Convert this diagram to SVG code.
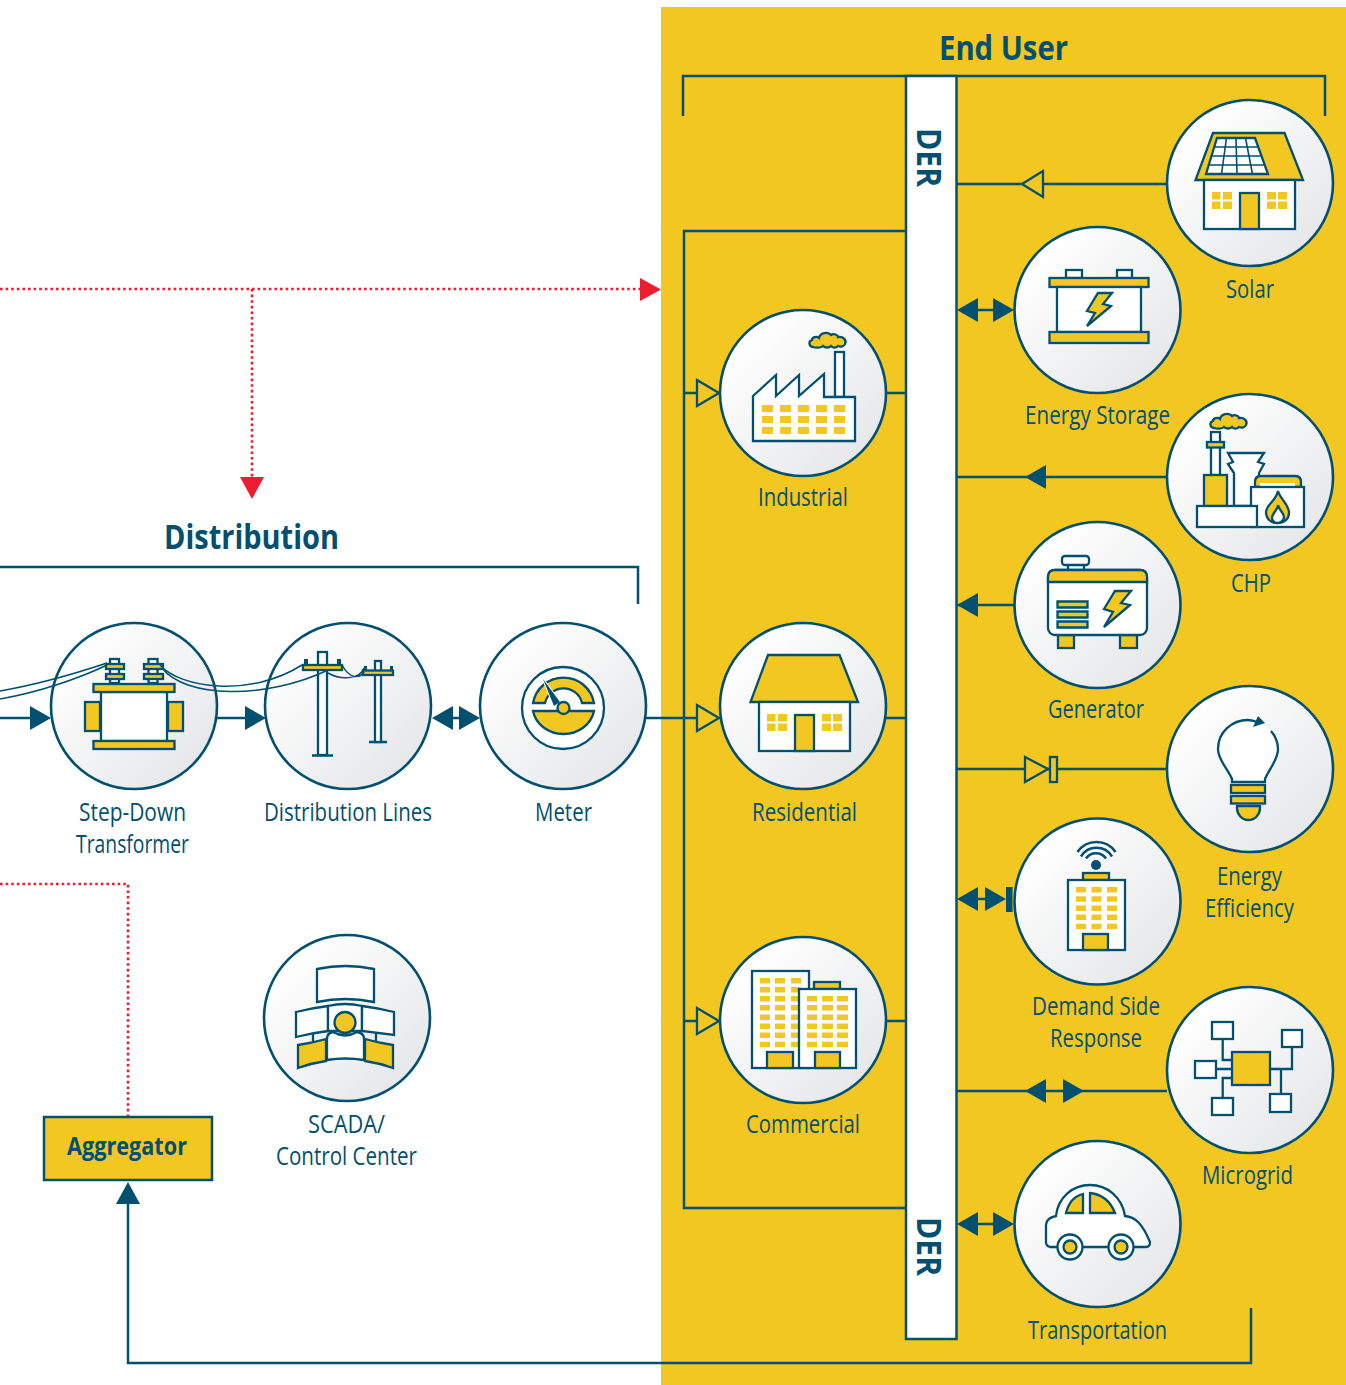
<svg xmlns="http://www.w3.org/2000/svg" xmlns:xlink="http://www.w3.org/1999/xlink" width="1346" height="1385" viewBox="0 0 1346 1385">
<style>
.c{fill:url(#g);stroke:#02506f;stroke-width:2.6}
.l{fill:none;stroke:#02506f;stroke-width:2.5}
.i{stroke:#02506f;stroke-width:2.3;stroke-linejoin:miter}
.w{fill:#fff}.y{fill:#f2c722}.n{fill:none}
.o{fill:#f2c722;stroke:none}
.a{fill:#02506f;stroke:none}
.t{fill:#02506f;font-family:"Open Sans","Noto Sans",sans-serif;font-size:25px;text-anchor:middle}
.h{fill:#02506f;font-family:"Open Sans","Noto Sans",sans-serif;font-weight:700;font-size:34px}
.r{fill:none;stroke:#ed1c2e;stroke-width:2.6;stroke-dasharray:2.6 3}
</style>
<defs>
<linearGradient id="g" x1="0.15" y1="0.15" x2="0.85" y2="0.85"><stop offset="0" stop-color="#fff"/><stop offset="1" stop-color="#e7e8ea"/></linearGradient>
<polygon id="fr" points="0,-12 21,0 0,12"/>
<polygon id="fl" points="0,-12 -21,0 0,12"/>
<path id="cloud" d="M4 15C0 15-1 9 3 8 3 5 8 4 10 6 11 1 19-1 22 3 25 1 29 3 29 5 34 4 38 8 36 12 35 15 31 15 29 14 27 16 24 16 22 14 20 16 16 16 14 14 12 16 7 16 4 15Z"/>
<g id="house">
<polygon class="i y" points="15,0 86.500,0 105,47 -2.500,47"/>
<rect class="i w" x="6" y="47" width="91" height="49"/>
<path class="o" d="M14 59h8.500v7.500h-8.500zM25 59h9v7.500h-9zM14 68.500h8.500v7.500h-8.500zM25 68.500h9v7.500h-9zM69 59h9v7.500h-9zM80 59h9v7.500h-9zM69 68.500h9v7.500h-9zM80 68.500h9v7.500h-9z"/>
<rect class="i y" x="42" y="60" width="19" height="36"/>
</g>
</defs>
<rect width="1346" height="1385" fill="#fff"/>
<rect x="661" y="7" width="685" height="1378" fill="#f2c722"/>

<g id="connectors">
<path class="l" d="M683 116V76H1325V116"/>
<path class="l" d="M0 567H638V604"/>
<path class="l" d="M906 231H684V1208H906"/>
<path class="l" d="M128 1204V1363H1251V1308"/>
<path class="r" d="M0 289H640"/>
<path class="r" d="M252 289V477"/>
<path class="r" d="M0 884H128V1116"/>
<polygon fill="#ed1c2e" points="640,278 661,289.500 640,301"/>
<polygon fill="#ed1c2e" points="240,477 264,477 252,499"/>
<polygon class="a" points="116,1204 140,1204 128,1182"/>
<path class="l" d="M0 718H30M217 718H245M453 718H459M646 718H700M886 718H906M684 393H700M886 393H906M684 1021H700M886 1021H906"/>
<path class="l" d="M957 184H1167M978 310H994M957 477H1167M957 605H1014M957 769H1167M978 899H986M957 1091H1167M978 1224H994"/>
<use href="#fr" class="a" x="30" y="718"/>
<use href="#fr" class="a" x="245" y="718"/>
<use href="#fl" class="a" x="453" y="718"/>
<use href="#fr" class="a" x="459" y="718"/>
<polygon class="i y" points="697,380 719,393 697,406"/>
<polygon class="i y" points="697,705 719,718 697,731"/>
<polygon class="i y" points="697,1008 719,1021 697,1034"/>
<polygon class="i y" points="1043,171 1022,184 1043,197"/>
<use href="#fl" class="a" x="978" y="310"/>
<use href="#fr" class="a" x="993" y="310"/>
<use href="#fl" class="a" x="1046" y="477"/>
<use href="#fl" class="a" x="978" y="605"/>
<polygon class="i y" points="1025,757 1048,769 1025,782"/>
<rect class="i y" x="1050" y="757" width="7" height="25"/>
<use href="#fl" class="a" x="978" y="899"/>
<use href="#fr" class="a" x="985" y="899"/>
<rect class="a" x="1006" y="887" width="6.500" height="25"/>
<use href="#fl" class="a" x="1046" y="1091"/>
<use href="#fr" class="a" x="1063" y="1091"/>
<use href="#fl" class="a" x="978" y="1224"/>
<use href="#fr" class="a" x="993" y="1224"/>
</g>

<g id="der-bar">
<rect x="906" y="76" width="50.500" height="1263" fill="#fff" stroke="#02506f" stroke-width="2.500"/>
<text class="h" transform="translate(917,128) rotate(90)" textLength="59" lengthAdjust="spacingAndGlyphs">DER</text>
<text class="h" transform="translate(917,1217) rotate(90)" textLength="59" lengthAdjust="spacingAndGlyphs">DER</text>
</g>

<g id="heading-end-user"><text class="h" x="939" y="60" textLength="129" lengthAdjust="spacingAndGlyphs">End User</text></g>
<g id="heading-distribution"><text class="h" x="164" y="549" textLength="175" lengthAdjust="spacingAndGlyphs">Distribution</text></g>

<g id="solar">
<circle class="c" cx="1250" cy="183" r="83"/>
<use href="#house" x="1198" y="133"/>
<polygon class="i w" points="1217,138 1255,138 1268,174 1206,174"/>
<path fill="none" stroke="#02506f" stroke-width="1.600" d="M1226.500 138L1221.500 174M1236 138L1237 174M1245.500 138L1252.500 174M1214.300 147H1258.300M1211.500 156H1261.500M1208.800 165H1264.800"/>
<text class="t" x="1250" y="298" textLength="48" lengthAdjust="spacingAndGlyphs">Solar</text>
</g>

<g id="energy-storage">
<circle class="c" cx="1097.500" cy="310" r="83"/>
<rect class="i w" x="1066" y="270" width="16" height="8"/>
<rect class="i w" x="1117" y="270" width="15" height="8"/>
<rect class="i y" x="1049.500" y="278" width="99" height="9"/>
<rect class="i w" x="1057" y="287" width="84" height="45"/>
<rect class="i y" x="1049.500" y="332" width="99" height="11"/>
<polygon class="i y" points="1098,293 1112,293 1103,304 1111,306 1087,326 1095,313 1087,311"/>
<text class="t" x="1097.500" y="424" textLength="145" lengthAdjust="spacingAndGlyphs">Energy Storage</text>
</g>

<g id="chp">
<circle class="c" cx="1250" cy="477" r="83"/>
<use href="#cloud" class="i y" x="1210" y="413"/>
<rect class="i w" x="1211" y="432" width="9" height="43"/>
<rect class="i y" x="1207" y="442" width="17" height="5.500"/>
<rect class="i y" x="1204" y="475" width="23" height="31"/>
<polygon class="i w" points="1228,453 1264,453 1258,462 1264,464 1259,473 1259,506 1234,506 1234,473 1228,464 1233,462"/>
<path class="i y" d="M1255 487V482Q1255 476 1261 476H1295Q1301 476 1301 482V487Z"/>
<rect class="w" x="1260" y="483" width="35" height="4"/>
<rect class="i w" x="1251" y="487" width="53" height="40"/>
<path class="i y" d="M1278 491C1280 499 1289 504 1289 513 1289 519 1284 523 1277 523 1270 523 1266 518 1266 512 1266 505 1276 501 1278 491Z"/>
<path class="i w" d="M1278 505C1278 510 1272 513 1272 518 1272 520 1274 523 1277 523 1281 523 1284 520 1284 517 1284 513 1279 510 1278 505Z"/>
<rect class="i w" x="1197" y="506" width="60" height="21"/>
<text class="t" x="1251" y="592" textLength="40" lengthAdjust="spacingAndGlyphs">CHP</text>
</g>

<g id="generator">
<circle class="c" cx="1097.500" cy="605" r="83"/>
<rect class="i w" x="1068" y="564" width="16" height="7"/>
<rect class="i w" x="1062" y="556" width="27" height="9" rx="3"/>
<rect class="i y" x="1058" y="635" width="16" height="13"/>
<rect class="i y" x="1120" y="635" width="17" height="13"/>
<rect class="i w" x="1048" y="570" width="99" height="65" rx="7"/>
<path class="i y" d="M1048 582V577Q1048 570 1055 570H1140Q1147 570 1147 577V582Z"/>
<path class="i y" stroke-width="1.800" d="M1057.500 601.500h30v6h-30zM1057.500 611.500h30v6h-30zM1057.500 621.500h30v6h-30z"/>
<polygon class="i y" points="1115,591 1131,591 1121,603 1130,605 1104,627 1113,612 1104,609"/>
<text class="t" x="1096" y="718" textLength="96" lengthAdjust="spacingAndGlyphs">Generator</text>
</g>

<g id="energy-efficiency">
<circle class="c" cx="1250" cy="769" r="83"/>
<path class="i w" d="M1271 731C1276 737 1278 743 1278 749 1278 760 1269 769 1265 779V782H1232V779C1228 769 1218 760 1218 749 1218 732 1232 720 1248 720 1251 720 1254 721 1257 722"/>
<polygon class="a" points="1253,727 1258,716 1265,723"/>
<rect class="i y" x="1231" y="785" width="34" height="8"/>
<rect class="i y" x="1231" y="796" width="34" height="7.500"/>
<path class="i y" d="M1237 806H1260V808A11.500 12 0 0 1 1237 808Z"/>
<text class="t" x="1249.500" y="885" textLength="65" lengthAdjust="spacingAndGlyphs">Energy</text>
<text class="t" x="1249.500" y="917" textLength="89" lengthAdjust="spacingAndGlyphs">Efficiency</text>
</g>

<g id="demand-side-response">
<circle class="c" cx="1097.500" cy="901.500" r="83"/>
<circle class="a" cx="1096" cy="865" r="5"/>
<path fill="none" stroke="#02506f" stroke-width="2.500" d="M1077.500 852A23 23 0 0 1 1115.500 852M1081 856.500A18 18 0 0 1 1112 856.500M1086 858.500A12 12 0 0 1 1106 858.500"/>
<rect class="i y" x="1083" y="873" width="26" height="7"/>
<rect class="i w" x="1068" y="880" width="57" height="70"/>
<path class="o" d="M1076 887h10v5.500h-10zM1091.500 887h10v5.500h-10zM1107 887h10v5.500h-10zM1076 896.200h10v5.500h-10zM1091.500 896.200h10v5.500h-10zM1107 896.200h10v5.500h-10zM1076 905.400h10v5.500h-10zM1091.500 905.400h10v5.500h-10zM1107 905.400h10v5.500h-10zM1076 914.600h10v5.500h-10zM1091.500 914.600h10v5.500h-10zM1107 914.600h10v5.500h-10zM1076 923.800h10v5.500h-10zM1091.500 923.800h10v5.500h-10zM1107 923.800h10v5.500h-10z"/>
<rect class="i y" x="1083" y="934" width="25" height="16"/>
<text class="t" x="1096" y="1015" textLength="128" lengthAdjust="spacingAndGlyphs">Demand Side</text>
<text class="t" x="1096" y="1047" textLength="92" lengthAdjust="spacingAndGlyphs">Response</text>
</g>

<g id="microgrid">
<circle class="c" cx="1250" cy="1070" r="83"/>
<path class="i n" d="M1222.700 1039V1060H1232M1216 1069H1232M1222.700 1098V1078H1232M1292 1047V1069H1270M1281 1069V1094"/>
<rect class="i y" x="1232" y="1052" width="38" height="33"/>
<rect class="i w" x="1212" y="1022" width="21" height="17"/>
<rect class="i w" x="1195" y="1061" width="21" height="17"/>
<rect class="i w" x="1212" y="1098" width="21" height="17"/>
<rect class="i w" x="1282" y="1030" width="20" height="17"/>
<rect class="i w" x="1270" y="1094" width="21" height="18"/>
<text class="t" x="1247.500" y="1184" textLength="91" lengthAdjust="spacingAndGlyphs">Microgrid</text>
</g>

<g id="transportation">
<circle class="c" cx="1097.500" cy="1224" r="83"/>
<path class="i w" d="M1050 1247Q1046 1246 1046 1242V1225Q1046 1218 1056 1216C1058 1197 1073 1185 1090 1185 1107 1185 1122 1197 1125 1216 1135 1217 1142 1223 1150 1242 1150 1245 1149 1247 1146 1247Z"/>
<path class="i y" d="M1066 1213H1083V1194Q1070 1197 1066 1213ZM1090 1193V1213H1115Q1108 1195 1090 1193Z"/>
<circle class="i w" cx="1070" cy="1247" r="12.500"/><circle class="i y" cx="1070" cy="1247" r="6.500"/>
<circle class="i w" cx="1121" cy="1247" r="12.500"/><circle class="i y" cx="1121" cy="1247" r="6.500"/>
<text class="t" x="1097.500" y="1339" textLength="139" lengthAdjust="spacingAndGlyphs">Transportation</text>
</g>

<g id="industrial">
<circle class="c" cx="803" cy="393" r="83"/>
<use href="#cloud" class="i y" x="809" y="332"/>
<rect class="i w" x="835" y="352" width="9" height="45"/>
<polygon class="i w" points="753,396 776,375 776,396 799,375 799,396 824,374 824,397 855,397 855,441 753,441"/>
<path class="o" d="M762 405h11v7h-11zM780 405h11v7h-11zM798 405h11v7h-11zM816 405h11v7h-11zM834 405h11v7h-11zM762 416h11v7h-11zM780 416h11v7h-11zM798 416h11v7h-11zM816 416h11v7h-11zM834 416h11v7h-11zM762 427h11v7h-11zM780 427h11v7h-11zM798 427h11v7h-11zM816 427h11v7h-11zM834 427h11v7h-11z"/>
<text class="t" x="803" y="506" textLength="90" lengthAdjust="spacingAndGlyphs">Industrial</text>
</g>

<g id="residential">
<circle class="c" cx="803" cy="706" r="83"/>
<use href="#house" x="753" y="655"/>
<text class="t" x="804.500" y="821" textLength="105" lengthAdjust="spacingAndGlyphs">Residential</text>
</g>

<g id="commercial">
<circle class="c" cx="803" cy="1020" r="83"/>
<rect class="i w" x="752" y="971" width="57" height="97"/>
<path class="o" d="M760 978h10v5.500h-10zM775 978h10v5.500h-10zM791 978h10v5.500h-10zM760 987h10v5.500h-10zM775 987h10v5.500h-10zM791 987h10v5.500h-10zM760 996h10v5.500h-10zM775 996h10v5.500h-10zM791 996h10v5.500h-10zM760 1005h10v5.500h-10zM775 1005h10v5.500h-10zM791 1005h10v5.500h-10zM760 1014.400h10v5.500h-10zM775 1014.400h10v5.500h-10zM791 1014.400h10v5.500h-10zM760 1023.500h10v5.500h-10zM775 1023.500h10v5.500h-10zM791 1023.500h10v5.500h-10zM760 1032.600h10v5.500h-10zM775 1032.600h10v5.500h-10zM791 1032.600h10v5.500h-10zM760 1041.700h10v5.500h-10zM775 1041.700h10v5.500h-10zM791 1041.700h10v5.500h-10z"/>
<rect class="i y" x="767" y="1052" width="26" height="16"/>
<rect class="i y" x="814" y="982" width="26" height="7"/>
<rect class="i w" x="799" y="989" width="57" height="79"/>
<path class="o" d="M807 996h10v5.500h-10zM822 996h11v5.500h-11zM837 996h11v5.500h-11zM807 1005h10v5.500h-10zM822 1005h11v5.500h-11zM837 1005h11v5.500h-11zM807 1014.400h10v5.500h-10zM822 1014.400h11v5.500h-11zM837 1014.400h11v5.500h-11zM807 1023.500h10v5.500h-10zM822 1023.500h11v5.500h-11zM837 1023.500h11v5.500h-11zM807 1032.600h10v5.500h-10zM822 1032.600h11v5.500h-11zM837 1032.600h11v5.500h-11zM807 1041.700h10v5.500h-10zM822 1041.700h11v5.500h-11zM837 1041.700h11v5.500h-11z"/>
<rect class="i y" x="815" y="1052" width="25" height="16"/>
<text class="t" x="803" y="1133" textLength="114" lengthAdjust="spacingAndGlyphs">Commercial</text>
</g>

<g id="step-down-transformer">
<circle class="c" cx="134" cy="706" r="83"/>
<rect class="i w" x="110" y="659" width="9" height="24"/>
<rect class="i w" x="148.500" y="659" width="9" height="24"/>
<rect class="i y" x="106" y="664" width="18" height="5"/>
<rect class="i y" x="106" y="674" width="18" height="5"/>
<rect class="i y" x="144" y="664" width="19" height="5"/>
<rect class="i y" x="144" y="674" width="19" height="5"/>
<rect class="i y" x="85" y="702" width="15" height="29"/>
<rect class="i y" x="168" y="702" width="15" height="29"/>
<rect class="i w" x="101" y="692" width="66" height="49"/>
<rect class="i y" x="93.500" y="684" width="81" height="8"/>
<rect class="i y" x="93.500" y="741" width="81" height="8"/>
<text class="t" x="132.500" y="821" textLength="107" lengthAdjust="spacingAndGlyphs">Step-Down</text>
<text class="t" x="132.500" y="853" textLength="113" lengthAdjust="spacingAndGlyphs">Transformer</text>
</g>

<g id="distribution-lines">
<circle class="c" cx="348" cy="706" r="83"/>
<rect class="i w" x="318" y="652" width="9" height="103"/>
<path class="l" d="M312 755.500H333M369 742H387"/>
<path class="a" d="M304 659h4v6h-4zM337 659h4v6h-4zM364 666h3v4h-3zM390 666h3v4h-3z"/>
<rect class="i y" x="303" y="665" width="39" height="5"/>
<rect class="i w" x="375" y="661" width="6" height="81"/>
<rect class="i y" x="363" y="670.500" width="30" height="4.500"/>
<text class="t" x="348" y="821" textLength="168" lengthAdjust="spacingAndGlyphs">Distribution Lines</text>
</g>

<g id="wires">
<path fill="none" stroke="#02506f" stroke-width="1.500" d="M0 691C40 684 80 672 107 663M0 699C40 692 80 678 107 665M160 665C180 688 250 698 302 665M162 668C185 698 265 700 328 670M342 665C350 680 360 678 364 672M328 673C340 680 360 680 364 668"/>
</g>

<g id="meter">
<circle class="c" cx="563" cy="706" r="83"/>
<circle class="i w" cx="563" cy="708" r="41"/>
<path class="i y" d="M533 703A31 31 0 0 1 594 703H582A19 19 0 0 0 545 703Z"/>
<path class="i y" d="M533 711H594A31 28 0 0 1 533 711Z"/>
<polygon fill="#fff" stroke="#fff" stroke-width="2" points="543,679 560,702 554,706"/>
<polygon class="a" points="543,679 560,702 554,706"/>
<circle class="i y" cx="563.500" cy="708" r="6"/>
<text class="t" x="563.500" y="821" textLength="57" lengthAdjust="spacingAndGlyphs">Meter</text>
</g>

<g id="scada">
<circle class="c" cx="347" cy="1018" r="83"/>
<path class="i w" d="M317 969Q345.500 963 374 969V1002Q345.500 996 317 1002Z"/>
<path class="i w" d="M313 1030V1042M376 1030V1042"/>
<path class="i w" d="M296 1012Q312 1008 328 1006V1031Q312 1033 296 1037Z"/>
<path class="i w" d="M328 1006Q345 1002 362 1006V1031H328Z"/>
<path class="i w" d="M362 1006Q378 1008 394 1012V1035Q378 1033 362 1031Z"/>
<path class="i y" d="M298 1045Q312 1043 326 1039V1061Q312 1063 298 1068Z"/>
<path class="i y" d="M365 1039Q379 1043 393 1045V1068Q379 1063 365 1061Z"/>
<path class="i w" d="M327 1060V1039Q327 1033 333 1032Q345 1039 357 1032Q364 1033 364 1039V1060Q345 1057 327 1060Z"/>
<circle class="i y" cx="345" cy="1022.500" r="10.500"/>
<text class="t" x="346.500" y="1133" textLength="77" lengthAdjust="spacingAndGlyphs">SCADA/</text>
<text class="t" x="346.500" y="1165" textLength="141" lengthAdjust="spacingAndGlyphs">Control Center</text>
</g>

<g id="aggregator">
<rect x="44" y="1117" width="168" height="63" fill="#f2c722" stroke="#02506f" stroke-width="2.500"/>
<text x="67" y="1155" fill="#02506f" font-family="Open Sans, Noto Sans, sans-serif" font-weight="700" font-size="25" textLength="120" lengthAdjust="spacingAndGlyphs">Aggregator</text>
</g>
</svg>
